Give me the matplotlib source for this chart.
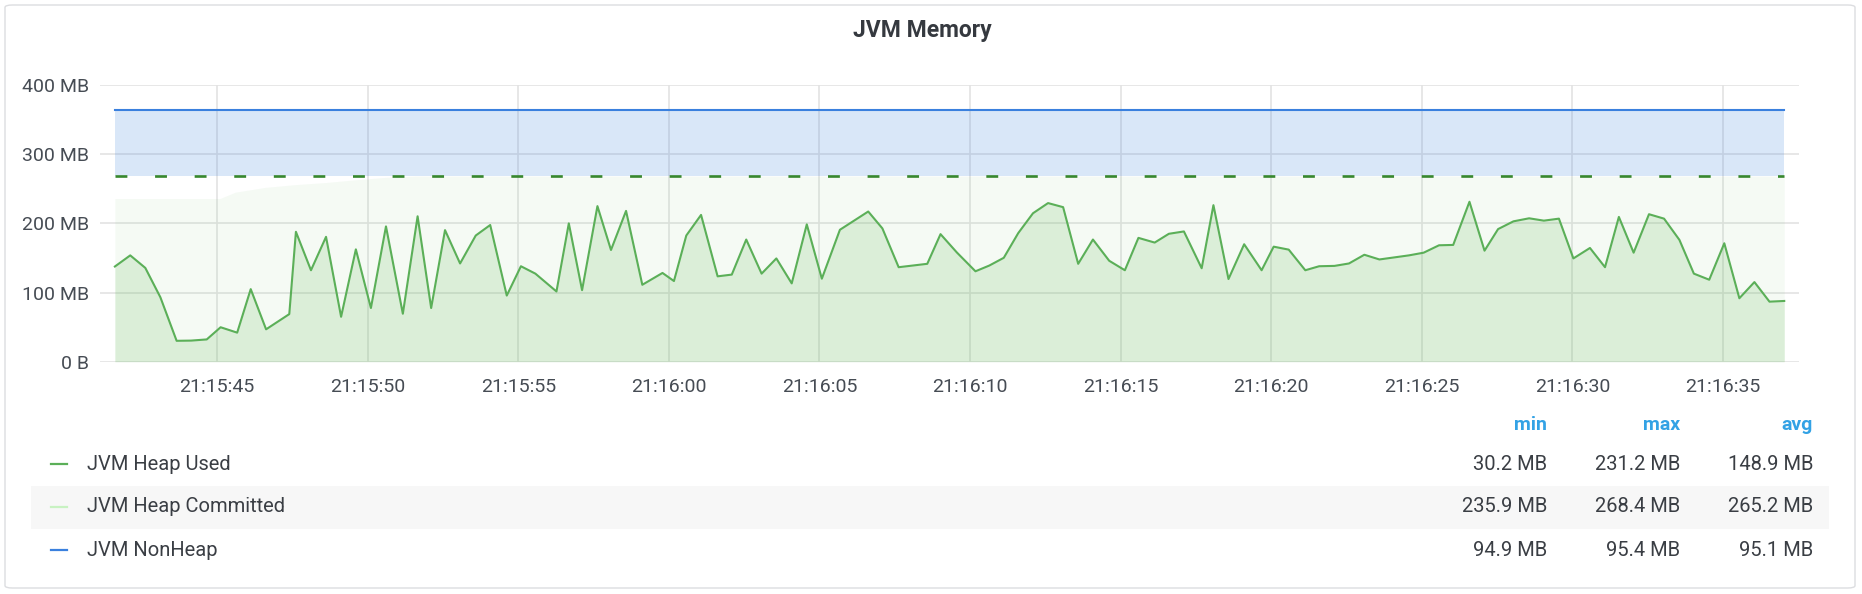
import datetime as dt
import matplotlib
matplotlib.use("Agg")
import matplotlib.pyplot as plt
import matplotlib.dates as mdates
from matplotlib.patches import FancyBboxPatch, Rectangle
from matplotlib.lines import Line2D

plt.rcParams['font.family'] = ['Roboto', 'DejaVu Sans']

# ---------------- data ----------------
# seconds after 21:15:40
used_t = [1.61, 2.12, 2.62, 3.12, 3.66, 4.14, 4.66, 5.12, 5.67, 6.12, 6.63, 7.40, 7.62, 8.12,
          8.62, 9.12, 9.61, 10.11, 10.61, 11.17, 11.66, 12.11, 12.57, 13.07, 13.59, 14.07,
          14.62, 15.09, 15.57, 16.27, 16.68, 17.12, 17.63, 18.08, 18.58, 19.12, 19.79, 20.17,
          20.58, 21.07, 21.62, 22.09, 22.57, 23.08, 23.57, 24.08, 24.58, 25.08, 25.68, 26.62,
          27.09, 27.63, 28.58, 29.02, 29.56, 30.18, 30.64, 31.12, 31.60, 32.09, 32.59, 33.09,
          33.59, 34.08, 34.62, 35.14, 35.59, 36.13, 36.60, 37.10, 37.69, 38.08, 38.58, 39.10,
          39.68, 40.08, 40.58, 41.13, 41.59, 42.10, 42.58, 43.09, 43.59, 44.57, 45.06, 45.57,
          46.04, 46.58, 47.08, 47.53, 48.04, 48.56, 49.05, 49.55, 50.03, 50.58, 51.08, 51.54,
          52.03, 52.54, 53.04, 53.55, 54.03, 54.54, 55.04, 55.54, 56.04, 56.54, 57.03]
heap_used = [137.6, 153.7, 135.6, 93.2, 30.2, 30.5, 32.2, 49.8, 42.0, 104.9, 46.8, 68.8, 187.8,
             132.2, 180.5, 64.9, 162.4, 77.6, 195.6, 69.3, 210.2, 77.6, 190.2, 142.0, 182.4,
             197.6, 95.6, 138.0, 127.3, 101.5, 200.0, 103.4, 224.9, 161.5, 218.0, 111.2, 128.3,
             116.6, 182.4, 212.2, 123.4, 125.9, 176.6, 127.3, 149.3, 113.2, 198.5, 120.0, 190.7,
             217.1, 192.7, 136.6, 141.5, 184.4, 158.0, 130.7, 139.0, 150.2, 185.9, 214.6, 229.3,
             223.4, 141.5, 176.6, 145.9, 132.2, 179.0, 172.2, 184.9, 188.3, 135.1, 226.3, 119.5,
             169.8, 132.2, 166.3, 162.0, 132.2, 138.0, 138.5, 142.0, 154.6, 147.8, 153.7, 157.6,
             168.3, 168.8, 231.2, 160.5, 191.7, 202.9, 207.3, 203.9, 206.8, 149.3, 164.4, 136.6,
             209.3, 157.6, 213.2, 206.8, 176.1, 127.3, 118.5, 171.2, 91.7, 115.1, 86.8, 87.8]

committed_t = [1.61, 5.10, 5.60, 6.60, 7.60, 8.60, 9.60, 10.60, 11.60, 57.03]
heap_committed = [235.9, 235.9, 245.0, 252.0, 256.0, 259.0, 263.0, 266.5, 268.4, 268.4]

heap_max_t = [1.61, 57.03]
heap_max = [268.4, 268.4]

nonheap_t = [1.61, 12.35, 55.45, 57.03]
nonheap = [94.9, 95.1, 95.4, 95.4]

series_names = ["JVM Heap Used", "JVM Heap Committed", "JVM NonHeap"]
stat_headers = ["min", "max", "avg"]
stats = [["30.2 MB", "231.2 MB", "148.9 MB"],
         ["235.9 MB", "268.4 MB", "265.2 MB"],
         ["94.9 MB", "95.4 MB", "95.1 MB"]]

y_ticks = [0, 100, 200, 300, 400]
y_tick_labels = ["0 B", "100 MB", "200 MB", "300 MB", "400 MB"]
x_tick_seconds = [5, 10, 15, 20, 25, 30, 35, 40, 45, 50, 55]
x_range_seconds = [1.116, 57.52]

title = "JVM Memory"

# ---------------- helpers ----------------
base = dt.datetime(2024, 1, 1, 21, 15, 40)
def to_time(secs):
    return [base + dt.timedelta(seconds=s) for s in secs]

GREEN = "#5BAF58"
GREEN_LIGHT = "#C8F2C2"
GREEN_DARK = "#37872D"
BLUE = "#3A80DE"
TEXT = "#464C54"
GRID = "#E3E3E3"

W, H = 1862, 594
fig = plt.figure(figsize=(W / 100, H / 100), dpi=100)

def fx(px):
    return px / W
def fy(py):
    return 1 - py / H

# panel border
fig.patches.append(FancyBboxPatch((fx(5), fy(588)), fx(1855) - fx(5), fy(5) - fy(588),
                                  boxstyle="round,pad=0,rounding_size=0.004",
                                  transform=fig.transFigure, facecolor="none",
                                  edgecolor="#DCDDE0", linewidth=1.0, zorder=-2))

fig.text(fx(922), fy(31), title, ha="center", va="center", fontsize=16.5,
         fontweight="bold", color="#35393F")

ax = fig.add_axes([fx(100), fy(361.7), fx(1799) - fx(100), fy(85) - fy(361.7)])
ax.set_facecolor("none")
ax.set_zorder(2)

tu = to_time(used_t)
tc = to_time(committed_t)
tm = to_time(heap_max_t)
tn = to_time(nonheap_t)

# committed area (very light)
ax.fill_between(tc, 0, heap_committed, color="#73BF69", alpha=0.07, linewidth=0, zorder=2)
# nonheap stacked on heap max
ax.fill_between(tn, [heap_max[0]] * len(nonheap),
                [heap_max[0] + v for v in nonheap],
                step="post", color=BLUE, alpha=0.19, linewidth=0, zorder=2)
ax.step(tn, [heap_max[0] + v for v in nonheap], where="post", color=BLUE, lw=1.5, zorder=4)
# heap max dashed
ax.plot(tm, heap_max, color=GREEN_DARK, lw=1.9, dashes=(4.5, 10.5), zorder=4)
# heap used
ax.fill_between(tu, 0, heap_used, color="#73BF69", alpha=0.2, linewidth=0, zorder=3)
ax.plot(tu, heap_used, color=GREEN, lw=1.5, zorder=5)

ax.set_ylim(0, 400)
ax.set_xlim(to_time(x_range_seconds))
ax.set_yticks(y_ticks)
ax.set_yticklabels(y_tick_labels)
ax.set_xticks(to_time(x_tick_seconds))
ax.xaxis.set_major_formatter(mdates.DateFormatter("%H:%M:%S"))
for s in ax.spines.values():
    s.set_visible(False)
ax.grid(True, color=GRID, lw=1.2, zorder=0)
ax.set_axisbelow(True)
ax.tick_params(axis="both", length=0, labelsize=14, colors=TEXT)
ax.tick_params(axis="x", pad=12)
ax.tick_params(axis="y", pad=8)

# legend table
rows_y = [464, 507, 550]
colors = [GREEN, GREEN_LIGHT, BLUE]
fig.patches.append(Rectangle((fx(31), fy(529)), fx(1829) - fx(31), fy(486) - fy(529),
                             transform=fig.transFigure, facecolor="#F7F7F7",
                             edgecolor="none", zorder=-1))
col_x = [1547, 1680, 1813]
for h, cx in zip(stat_headers, col_x):
    fig.text(fx(cx), fy(425), h, ha="right", va="center", fontsize=14,
             fontweight="bold", color="#33A2E5")
for i, (name, c, ry) in enumerate(zip(series_names, colors, rows_y)):
    fig.lines.append(Line2D([fx(51), fx(67)], [fy(ry), fy(ry)], transform=fig.transFigure,
                            color=c, lw=1.6))
    fig.text(fx(87), fy(ry), name, ha="left", va="center", fontsize=14.5, color="#3A3E44")
    for val, cx in zip(stats[i], col_x):
        fig.text(fx(cx), fy(ry), val, ha="right", va="center", fontsize=14.5, color="#3A3E44")

fig.savefig("out.png", dpi=100, facecolor="white")
